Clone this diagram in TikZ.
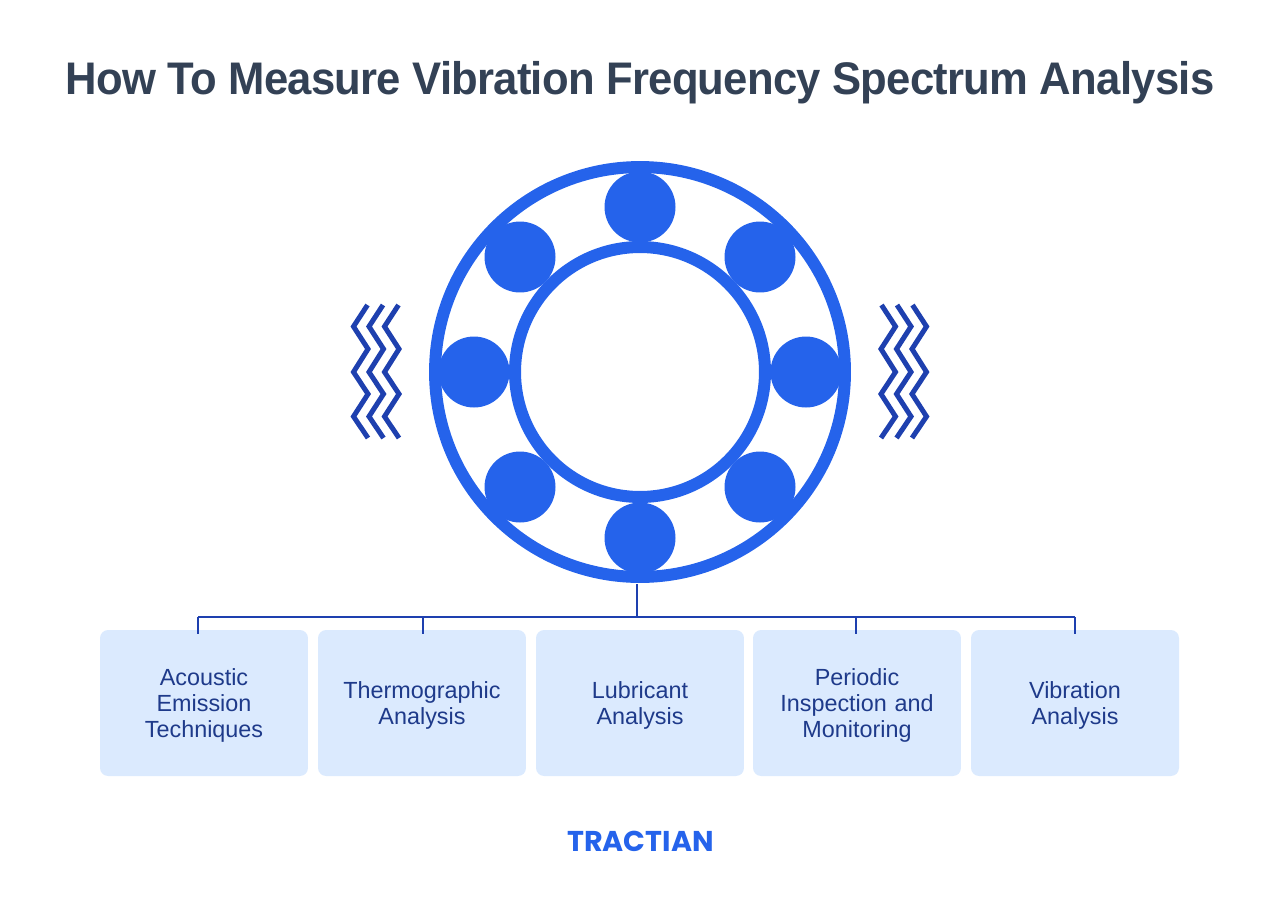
\documentclass[tikz,border=0pt]{standalone}
\usepackage{fontspec}
\setmainfont{Liberation Sans}
\newfontfamily\titlefont[LetterSpace=-1.6,FakeStretch=0.955]{Liberation Sans}
\newfontfamily\logofont{Poppins}
\definecolor{ringblue}{HTML}{2563EB}
\definecolor{waveblue}{HTML}{1E40AF}
\definecolor{boxblue}{HTML}{DBEAFE}
\definecolor{boxtext}{HTML}{1E3A8A}
\definecolor{titlegray}{HTML}{334155}
\begin{document}
\begin{tikzpicture}[
    x=0.02cm, y=-0.02cm,
    ring/.style={circle, draw=ringblue, line width=0.24cm, inner sep=0pt, outer sep=0pt},
    ball/.style={circle, fill=ringblue, minimum size=1.42cm, inner sep=0pt, outer sep=0pt},
    wave/.style={draw=waveblue, line width=0.1cm, line join=miter},
    link/.style={draw=waveblue, line width=0.04cm},
    method/.style={rectangle, fill=boxblue, rounded corners=0.16cm, minimum width=4.16cm, minimum height=2.92cm, text width=3.9cm, align=center, text=boxtext, font=\fontsize{13.3}{14.8}\selectfont, inner sep=0pt, outer sep=0pt, execute at begin node={\rule{0pt}{12pt}}}
]
\useasboundingbox (0,0) rectangle (1280,903);

% Titre
\node[text=titlegray, font=\titlefont\fontsize{26}{30}\selectfont\bfseries] (title) at (640,83) {How To Measure Vibration Frequency Spectrum Analysis};

% Roulement
\node[ring, minimum size=8.2cm] (outer) at (640,372) {};
\node[ring, minimum size=5cm] (inner) at (640,372) {};
\node[ball] (ballN) at (640,207) {};
\node[ball] (ballNE) at (760,257) {};
\node[ball] (ballE) at (806,372) {};
\node[ball] (ballSE) at (760,487) {};
\node[ball] (ballS) at (640,538) {};
\node[ball] (ballSW) at (520,487) {};
\node[ball] (ballW) at (474,372) {};
\node[ball] (ballNW) at (520,257) {};

% Vibrations
\foreach \dx in {0,15.5,31} {
  \draw[wave] (367.5+\dx,305) -- (353.5+\dx,326.5) -- (368+\dx,349) -- (353.5+\dx,372) -- (368+\dx,394) -- (353.5+\dx,416.5) -- (368+\dx,438);
  \draw[wave] (912.5-\dx,305) -- (926.5-\dx,326.5) -- (912-\dx,349) -- (926.5-\dx,372) -- (912-\dx,394) -- (926.5-\dx,416.5) -- (912-\dx,438);
}

% Methodes
\node[method] (acoustic) at (204,703) {Acoustic\\Emission\\Techniques};
\node[method] (thermo) at (422,703) {Thermographic\\Analysis};
\node[method] (lubricant) at (640,703) {Lubricant\\Analysis};
\node[method] (periodic) at (857,703) {Periodic\\Inspection and\\Monitoring};
\node[method] (vibration) at (1075,703) {Vibration\\Analysis};

% Liaisons
\coordinate (busA) at (198,617);
\coordinate (busB) at (423,617);
\coordinate (busC) at (637,617);
\coordinate (busD) at (856,617);
\coordinate (busE) at (1075,617);
\draw[link] (busA) -- (busE);
\draw[link] (busC) -- ([yshift=-0.14cm]busC |- outer.south);
\draw[link] (busA) -- ([yshift=-0.08cm]busA |- acoustic.north);
\draw[link] (busB) -- ([yshift=-0.08cm]busB |- thermo.north);
\draw[link] (busD) -- ([yshift=-0.08cm]busD |- periodic.north);
\draw[link] (busE) -- ([yshift=-0.08cm]busE |- vibration.north);

% Logo
\node[text=ringblue, font=\logofont\fontsize{16.3}{18}\selectfont\bfseries] (logo) at (640.5,841) {TRACTIAN};

\end{tikzpicture}
\end{document}
